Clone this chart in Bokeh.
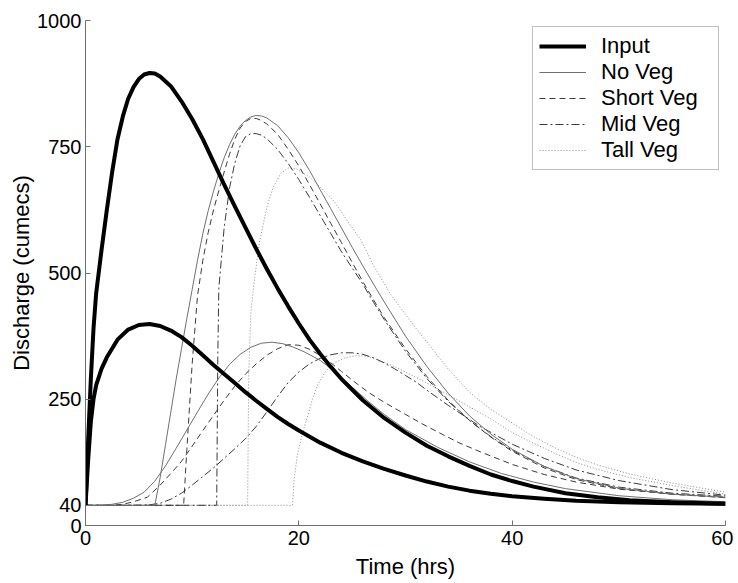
from bokeh.plotting import figure
from bokeh.models import Range1d, FixedTicker, Legend, LegendItem
from bokeh.embed import file_html
from bokeh.resources import INLINE

# ---- data (time in hrs, discharge in cumecs) ----
x_ticks = [0, 20, 40, 60]
y_ticks = [0, 40, 250, 500, 750, 1000]
series_names = ["Input", "No Veg", "Short Veg", "Mid Veg", "Tall Veg"]

# Input hydrographs
t_in_hi = [0, 0.25, 0.5, 0.75, 1, 1.5, 2, 2.5, 3, 3.5, 4, 4.5, 5, 5.5, 6, 6.5, 7, 8, 9, 10,
           11, 12, 13, 14, 15, 16, 17, 18, 19, 20, 21, 22, 23, 24, 26, 28, 30, 32, 34, 36,
           38, 40, 42, 45, 48, 51, 55, 60]
q_in_hi = [40, 170, 290, 390, 460, 545, 625, 700, 765, 810, 845, 868, 884, 893, 896, 895, 889, 870, 840, 805,
           765, 720, 675, 632, 590, 548, 508, 470, 434, 400, 368, 340, 314, 290, 248, 213, 184, 158, 137, 118,
           101, 88, 77, 64, 56, 50, 46, 43]
t_in_lo = [0, 0.25, 0.5, 0.75, 1, 1.5, 2, 3, 4, 5, 6, 7, 8, 9, 10, 11, 12, 13, 14, 15,
           16, 17, 18, 19, 20, 22, 24, 26, 28, 30, 32, 34, 36, 38, 40, 43, 46, 50, 55, 60]
q_in_lo = [40, 130, 205, 250, 278, 310, 333, 368, 388, 397, 399, 395, 386, 373, 356, 337, 318, 300, 282, 264,
           247, 231, 215, 201, 188, 164, 144, 127, 112, 99, 87, 77, 69, 63, 58, 53, 49, 46, 44, 43]

# No Veg
t_nv_hi = [0, 6.5, 7, 7.5, 8, 8.5, 9, 9.5, 10, 10.5, 11, 11.5, 12, 12.5, 13, 13.5, 14, 14.5, 15, 15.5,
           16, 16.5, 17, 18, 19, 20, 21, 22, 23, 24, 25, 26, 27, 28, 30, 32, 34, 36, 38, 40,
           43, 46, 50, 55, 60]
q_nv_hi = [40, 40, 95, 160, 225, 290, 350, 410, 467, 525, 578, 623, 662, 697, 728, 754, 775, 791, 802, 809,
           812, 811, 807, 792, 768, 738, 703, 665, 627, 589, 551, 514, 478, 443, 375, 315, 262, 217, 181, 151,
           117, 93, 74, 62, 56]
t_nv_lo = [0, 1.5, 2.5, 3.5, 4.5, 5.5, 6.5, 7.5, 8.5, 9.5, 10.5, 11.5, 12.5, 13.5, 14.5, 15.5, 16.5, 17.5,
           18.5, 19.5, 20.5, 22, 23.5, 25, 26.5, 28, 30, 33, 36, 39, 42, 45, 50, 55, 60]
q_nv_lo = [40, 40, 42, 46, 54, 66, 88, 118, 153, 189, 225, 260, 292, 319, 339, 353, 361, 363,
           360, 353, 344, 327, 303, 274, 246, 220, 190, 155, 126, 103, 86, 73, 59, 51, 47]

# Short Veg
t_sv_hi = [0, 9.2, 9.5, 10, 10.5, 11, 11.5, 12, 12.5, 13, 13.5, 14, 14.5, 15, 15.5, 16, 16.5, 17, 18, 19,
           20, 21, 22, 23, 24, 25, 26, 27, 28, 30, 32, 34, 36, 38, 40, 43, 46, 50, 55, 60]
q_sv_hi = [40, 40, 150, 320, 455, 525, 580, 625, 663, 700, 735, 765, 787, 800, 806, 806, 802, 795, 775, 745,
           712, 675, 637, 598, 560, 521, 483, 447, 412, 350, 295, 248, 208, 175, 147, 114, 91, 73, 62, 56]
t_sv_lo = [0, 2.5, 3.5, 4.5, 5.8, 7, 8, 9, 10, 11, 12, 13, 14, 15, 16, 17, 18, 19, 20, 21,
           22, 23, 24, 25, 26.5, 28, 30, 31.5, 33.5, 35, 37, 40, 43, 46, 50, 55, 60]
q_sv_lo = [40, 40, 42, 47, 56, 80, 103, 127, 157, 188, 218, 248, 276, 300, 320, 337, 350, 358, 357, 349,
           337, 322, 305, 288, 264, 244, 220, 202, 180, 164, 146, 121, 101, 86, 72, 62, 55]

# Mid Veg
t_mv_hi = [0, 12.3, 12.4, 12.5, 13, 13.5, 14, 14.5, 15, 15.5, 16, 16.5, 17, 18, 19, 20, 21, 22, 23, 24,
           25, 26, 27, 28, 30, 32, 34, 36, 38, 40, 43, 46, 50, 55, 60]
q_mv_hi = [40, 40, 330, 470, 590, 668, 718, 752, 770, 776, 776, 773, 766, 745, 717, 685, 650, 614, 578, 542,
           510, 478, 442, 408, 345, 291, 246, 208, 176, 149, 117, 94, 76, 64, 58]
t_mv_lo = [0, 5, 6, 7, 8, 9, 10, 11, 12, 13, 14, 15, 16, 17, 18, 19, 20, 21, 22, 23,
           24, 25, 26, 27, 28, 29, 30, 31, 32, 34, 37, 40, 43, 46, 50, 55, 60]
q_mv_lo = [40, 40, 41, 44, 52, 64, 80, 97, 114, 133, 152, 172, 196, 225, 255, 283, 304, 320, 331, 338,
           342, 342, 339, 332, 322, 310, 297, 284, 268, 238, 196, 161, 133, 110, 89, 71, 60]

# Tall Veg
t_tv_hi = [0, 15.2, 15.3, 15.5, 15.8, 16.3, 17, 17.6, 18.3, 19, 19.8, 21, 22, 23.3, 24.5, 25.8, 27, 28.6,
           30, 31, 32.5, 34, 36, 38, 40, 42, 44, 46, 48, 51, 55, 60]
q_tv_hi = [40, 40, 300, 420, 480, 560, 630, 670, 697, 708, 706, 690, 670, 642, 605, 566, 515, 458,
           418, 390, 350, 310, 264, 230, 203, 176, 154, 135, 120, 102, 84, 66]
t_tv_lo = [0, 19.4, 19.55, 19.85, 20.3, 20.8, 21.3, 21.8, 22.5, 23.3, 24.3, 25.3, 26.1, 27, 28, 29, 30,
           31, 32, 34, 36, 38, 40, 42, 44, 46, 48, 51, 55, 60]
q_tv_lo = [40, 40, 90, 138, 180, 215, 252, 280, 305, 322, 332, 336, 336, 331, 323, 314, 304,
           293, 282, 259, 235, 211, 184, 163, 143, 125, 111, 95, 79, 62]

FONT = "Liberation Sans"

p = figure(width=733, height=581, output_backend="svg", toolbar_location=None,
           x_range=Range1d(0, 60), y_range=Range1d(0, 1000),
           min_border_left=85, min_border_top=20, min_border_right=8, min_border_bottom=54,
           background_fill_color="white", border_fill_color="white")
p.outline_line_color = None
p.grid.visible = False

for ax in (p.xaxis[0], p.yaxis[0]):
    ax.axis_line_color = "#707070"
    ax.major_tick_line_color = "#707070"
    ax.major_tick_in = 5
    ax.major_tick_out = 0
    ax.minor_tick_line_color = None
    ax.major_label_text_font = FONT
    ax.major_label_text_font_size = "20px"
    ax.major_label_text_color = "black"
    ax.axis_label_text_font = FONT
    ax.axis_label_text_font_size = "22px"
    ax.axis_label_text_font_style = "normal"
    ax.axis_label_text_color = "black"

p.xaxis[0].ticker = FixedTicker(ticks=x_ticks)
p.yaxis[0].ticker = FixedTicker(ticks=y_ticks)
p.xaxis[0].axis_label = "Time (hrs)"
p.yaxis[0].axis_label = "Discharge (cumecs)"
p.xaxis[0].major_label_standoff = 5
p.xaxis[0].axis_label_standoff = 6
p.yaxis[0].major_label_standoff = 4
p.yaxis[0].axis_label_standoff = 0

styles = {
    "Input": dict(line_color="black", line_width=4, line_join="round"),
    "No Veg": dict(line_color="#707070", line_width=1),
    "Short Veg": dict(line_color="#3a3a3a", line_width=1, line_dash="6 4"),
    "Mid Veg": dict(line_color="#3a3a3a", line_width=1, line_dash="8 3 2 3"),
    "Tall Veg": dict(line_color="#8a8a8a", line_width=1, line_dash="1 2"),
}

data = {
    "Input": [(t_in_hi, q_in_hi), (t_in_lo, q_in_lo)],
    "No Veg": [(t_nv_hi, q_nv_hi), (t_nv_lo, q_nv_lo)],
    "Short Veg": [(t_sv_hi, q_sv_hi), (t_sv_lo, q_sv_lo)],
    "Mid Veg": [(t_mv_hi, q_mv_hi), (t_mv_lo, q_mv_lo)],
    "Tall Veg": [(t_tv_hi, q_tv_hi), (t_tv_lo, q_tv_lo)],
}

draw_order = ["Tall Veg", "Mid Veg", "Short Veg", "No Veg", "Input"]
renderers = {}
for name in draw_order:
    renderers[name] = [p.line(t, q, **styles[name]) for (t, q) in data[name]]
items = [LegendItem(label=name, renderers=[renderers[name][0]]) for name in series_names]

legend = Legend(items=items, location="top_right")
legend.margin = 6
legend.padding = 6
legend.spacing = 0
legend.glyph_width = 47
legend.glyph_height = 26
legend.label_height = 26
legend.label_width = 111
legend.label_standoff = 15
legend.border_line_color = "#808080"
legend.border_line_width = 1
legend.background_fill_alpha = 1
legend.label_text_font = FONT
legend.label_text_font_size = "22px"
legend.label_text_color = "black"
p.add_layout(legend)

open("out.html", "w").write(file_html(p, INLINE))
